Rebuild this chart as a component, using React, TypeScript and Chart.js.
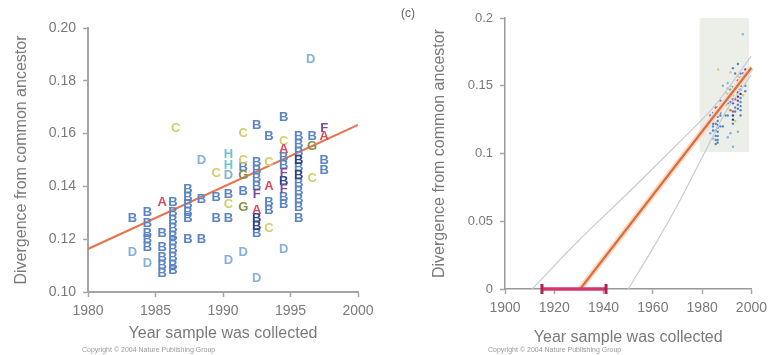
import React, { useEffect, useRef } from "react";
import { Chart, registerables } from "chart.js";
Chart.register(...registerables);

const FONT = "'Liberation Sans', Arial, sans-serif";
const TEXT = "#7a7a7a";
const AXIS = "#a5a5a5";

// ---- Panel (b): divergence vs year, by subtype letter ----
const yearsB = [1983.3, 1984.4, 1984.4, 1984.4, 1984.4, 1984.4, 1985.5, 1985.5, 1985.5, 1985.5, 1985.5,
  1986.3, 1986.3, 1986.3, 1986.3, 1986.3, 1986.3, 1986.3, 1986.3, 1986.3, 1986.3,
  1987.4, 1987.4, 1987.4, 1987.4, 1987.4, 1987.4, 1988.4, 1988.4, 1989.5, 1989.5, 1990.4, 1990.4,
  1991.5, 1991.5, 1992.5, 1992.5, 1992.5, 1992.5, 1992.5, 1992.5, 1993.4, 1993.4, 1993.4,
  1994.5, 1994.5, 1994.5, 1994.5, 1994.5, 1995.6, 1995.6, 1995.6, 1995.6, 1995.6, 1995.6, 1995.6, 1995.6, 1995.6,
  1996.6, 1997.5, 1997.5];
const divB = [0.128, 0.130, 0.126, 0.122, 0.120, 0.117, 0.122, 0.117, 0.113, 0.110, 0.107,
  0.134, 0.130, 0.127, 0.124, 0.121, 0.119, 0.116, 0.113, 0.110, 0.108,
  0.139, 0.136, 0.133, 0.130, 0.128, 0.120, 0.135, 0.120, 0.136, 0.128, 0.137, 0.128,
  0.147, 0.138, 0.163, 0.149, 0.146, 0.143, 0.140, 0.122, 0.159, 0.134, 0.131,
  0.166, 0.151, 0.148, 0.136, 0.133, 0.159, 0.156, 0.153, 0.147, 0.141, 0.138, 0.135, 0.132, 0.128,
  0.159, 0.150, 0.146];

const yearsNavy = [1992.5, 1992.5, 1995.6, 1995.6, 1994.5];
const divNavy = [0.128, 0.125, 0.150, 0.144, 0.142];

const yearsD = [1983.3, 1984.4, 1988.4, 1990.4, 1991.5, 1992.5, 1994.5, 1996.5, 1990.4];
const divD = [0.115, 0.111, 0.150, 0.112, 0.115, 0.105, 0.116, 0.188, 0.144];

const yearsC = [1986.5, 1989.5, 1991.5, 1991.5, 1993.4, 1996.6, 1990.4, 1993.4, 1994.5];
const divC = [0.162, 0.145, 0.160, 0.150, 0.149, 0.143, 0.133, 0.124, 0.157];

const yearsA = [1985.5, 1992.5, 1993.4, 1994.5, 1997.5];
const divA = [0.134, 0.131, 0.140, 0.154, 0.159];

const yearsH = [1990.4, 1990.4];
const divH = [0.152, 0.148];

const yearsG = [1991.5, 1991.5, 1996.6];
const divG = [0.132, 0.144, 0.155];

const yearsF = [1994.5, 1994.5, 1997.5, 1992.5];
const divF = [0.145, 0.139, 0.162, 0.137];

const groups = [
  { letter: "B", color: "#5b84c4", xs: yearsB, ys: divB },
  { letter: "B", color: "#2d4486", xs: yearsNavy, ys: divNavy },
  { letter: "D", color: "#86b0de", xs: yearsD, ys: divD },
  { letter: "C", color: "#d6cc6a", xs: yearsC, ys: divC },
  { letter: "A", color: "#d84a5e", xs: yearsA, ys: divA },
  { letter: "H", color: "#70c6d2", xs: yearsH, ys: divH },
  { letter: "G", color: "#8a8a48", xs: yearsG, ys: divG },
  { letter: "F", color: "#7c4a9a", xs: yearsF, ys: divF },
];

// regression
const fitYears = [1980, 2000];
const fitDiv = [0.1163, 0.1633];

const leftXTicks = [1980, 1985, 1990, 1995, 2000];
const leftYTicks = [0.10, 0.12, 0.14, 0.16, 0.18, 0.20];

// ---- Panel (c): extrapolation to common ancestor ----
const extrapYears = [1930.5, 2000];
const extrapDiv = [0, 0.1633];
const upperYears = [1911, 1930, 1950, 1970, 1985, 2000];
const upperDiv = [0, 0.036, 0.071, 0.107, 0.135, 0.172];
const lowerYears = [1950, 1960, 1970, 1980, 1990, 2000];
const lowerDiv = [0, 0.030, 0.062, 0.097, 0.132, 0.158];
const rootYears = [1915, 1941];
const boxYears = [1979, 1999];
const boxDiv = [0.101, 0.2];
const rightXTicks = [1900, 1920, 1940, 1960, 1980, 2000];
const rightYTicks = [0, 0.05, 0.1, 0.15, 0.2];

const pts = (xs: number[], ys: number[]) => xs.map((x, i) => ({ x, y: ys[i] }));

const letterPlugin = {
  id: "letters",
  afterDatasetsDraw(chart: any) {
    const ctx = chart.ctx;
    ctx.save();
    ctx.font = `bold 13px ${FONT}`;
    ctx.textAlign = "center";
    ctx.textBaseline = "middle";
    chart.data.datasets.forEach((ds: any, i: number) => {
      if (!ds.letter) return;
      const meta = chart.getDatasetMeta(i);
      ctx.fillStyle = ds.letterColor;
      meta.data.forEach((el: any) => ctx.fillText(ds.letter, el.x, el.y));
    });
    ctx.restore();
  },
};

const boxPlugin = {
  id: "box",
  beforeDatasetsDraw(chart: any) {
    const { ctx, scales } = chart;
    const x0 = scales.x.getPixelForValue(boxYears[0]);
    const x1 = scales.x.getPixelForValue(boxYears[1]);
    const y0 = scales.y.getPixelForValue(boxDiv[1]);
    const y1 = scales.y.getPixelForValue(boxDiv[0]);
    ctx.save();
    ctx.fillStyle = "#eceee8";
    ctx.fillRect(x0, y0, x1 - x0, y1 - y0);
    ctx.restore();
  },
};

function axisCommon(extra: any) {
  return {
    type: "linear",
    grid: { display: true, drawOnChartArea: false, drawTicks: true, tickLength: 5, tickColor: AXIS, tickWidth: 1.5 },
    ...extra,
  };
}

function LeftChart() {
  const ref = useRef<HTMLCanvasElement>(null);
  useEffect(() => {
    const datasets: any[] = groups.map((g) => ({
      type: "scatter",
      data: pts(g.xs, g.ys),
      pointRadius: 0,
      letter: g.letter,
      letterColor: g.color,
    }));
    datasets.push({
      type: "line",
      data: pts(fitYears, fitDiv),
      borderColor: "#e8744e",
      borderWidth: 2,
      pointRadius: 0,
    });
    const chart = new Chart(ref.current!, {
      type: "scatter",
      data: { datasets },
      options: {
        animation: false,
        responsive: false,
        layout: { padding: { top: 28, right: 27, left: 0, bottom: 0 } },
        plugins: { legend: { display: false }, tooltip: { enabled: false } },
        scales: {
          x: axisCommon({
            min: 1980, max: 2000,
            border: { display: true, color: AXIS, width: 2 },
            afterBuildTicks: (s: any) => { s.ticks = leftXTicks.map((v) => ({ value: v })); },
            ticks: { color: TEXT, font: { family: FONT, size: 14 }, padding: 6, maxRotation: 0, callback: (v: any) => String(v) },
            title: { display: true, text: "Year sample was collected", color: TEXT, font: { family: FONT, size: 16 }, padding: { top: 0, bottom: 12 } },
            afterFit: (s: any) => { s.height = 63; },
          }),
          y: axisCommon({
            min: 0.1, max: 0.2,
            border: { display: true, color: AXIS, width: 2 },
            afterBuildTicks: (s: any) => { s.ticks = leftYTicks.map((v) => ({ value: v })); },
            ticks: { color: TEXT, font: { family: FONT, size: 14 }, padding: 7, callback: (v: any) => Number(v).toFixed(2) },
            title: { display: true, text: "Divergence from common ancestor", color: TEXT, font: { family: FONT, size: 16 }, padding: { top: 12, bottom: 0 } },
            afterFit: (s: any) => { s.width = 88; },
          }),
        },
      },
      plugins: [letterPlugin],
    } as any);
    return () => chart.destroy();
  }, []);
  return <canvas ref={ref} width={385} height={355} style={{ position: "absolute", left: 0, top: 0 }} />;
}

function RightChart() {
  const ref = useRef<HTMLCanvasElement>(null);
  useEffect(() => {
    const datasets: any[] = [
      { type: "line", order: 1, data: pts(rootYears, [0, 0]), borderColor: "#d4386a", borderWidth: 3.5, pointRadius: 5, pointStyle: "line", rotation: 90, pointBorderWidth: 3, pointBorderColor: "#b02050", clip: false },
      { type: "line", order: 2, data: pts(extrapYears, extrapDiv), borderColor: "#d8703c", borderWidth: 2.2, pointRadius: 0, clip: false },
      { type: "line", order: 3, data: pts(extrapYears, extrapDiv), borderColor: "#fbd9c8", borderWidth: 6, pointRadius: 0, clip: false },
      { type: "line", order: 4, data: pts(upperYears, upperDiv), borderColor: "#c9cad8", borderWidth: 1.2, pointRadius: 0, tension: 0.3 },
      { type: "line", order: 4, data: pts(lowerYears, lowerDiv), borderColor: "#c9cad8", borderWidth: 1.2, pointRadius: 0, tension: 0.3 },
    ];
    groups.forEach((g) => datasets.push({
      type: "scatter",
      order: 5,
      data: pts(g.xs, g.ys),
      pointRadius: 1.2,
      pointBackgroundColor: g.color,
      pointBorderWidth: 0,
    }));
    const chart = new Chart(ref.current!, {
      type: "scatter",
      data: { datasets },
      options: {
        animation: false,
        responsive: false,
        layout: { padding: { top: 18, right: 13, left: 0, bottom: 0 } },
        plugins: { legend: { display: false }, tooltip: { enabled: false } },
        scales: {
          x: axisCommon({
            min: 1900, max: 2000,
            border: { display: true, color: "#9a9a9a", width: 1.5 },
            afterBuildTicks: (s: any) => { s.ticks = rightXTicks.map((v) => ({ value: v })); },
            ticks: { color: TEXT, font: { family: FONT, size: 14 }, padding: 6, maxRotation: 0, callback: (v: any) => String(v) },
            title: { display: true, text: "Year sample was collected", color: TEXT, font: { family: FONT, size: 16 }, padding: { top: 0, bottom: 8 } },
            afterFit: (s: any) => { s.height = 66; },
          }),
          y: axisCommon({
            min: 0, max: 0.2,
            border: { display: true, color: "#9a9a9a", width: 1.5 },
            afterBuildTicks: (s: any) => { s.ticks = rightYTicks.map((v) => ({ value: v })); },
            ticks: { color: TEXT, font: { family: FONT, size: 13 }, padding: 7, callback: (v: any) => String(Number(Number(v).toFixed(2))) },
            title: { display: true, text: "Divergence from common ancestor", color: TEXT, font: { family: FONT, size: 16 }, padding: { top: 45, bottom: 0 } },
            afterFit: (s: any) => { s.width = 120; },
          }),
        },
      },
      plugins: [boxPlugin],
    } as any);
    return () => chart.destroy();
  }, []);
  return <canvas ref={ref} width={388} height={355} style={{ position: "absolute", left: 385, top: 0 }} />;
}

export default function App() {
  return (
    <div style={{ position: "absolute", left: 0, top: 0, width: 773, height: 355, background: "#fff", overflow: "hidden", fontFamily: FONT }}>
      <LeftChart />
      <RightChart />
      <div style={{ position: "absolute", left: 401, top: 6, fontSize: 12, color: "#666" }}>(c)</div>
      <div style={{ position: "absolute", left: 82, top: 346, fontSize: 7, color: "#999", whiteSpace: "nowrap" }}>Copyright © 2004 Nature Publishing Group</div>
      <div style={{ position: "absolute", left: 488, top: 346, fontSize: 7, color: "#999", whiteSpace: "nowrap" }}>Copyright © 2004 Nature Publishing Group</div>
    </div>
  );
}
